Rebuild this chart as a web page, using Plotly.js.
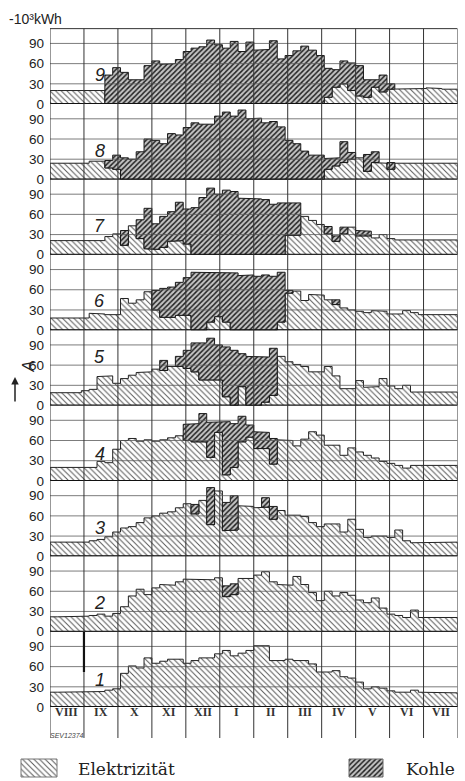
<!DOCTYPE html>
<html><head><meta charset="utf-8">
<script src="https://cdn.plot.ly/plotly-3.0.1.min.js"></script>
<style>html,body{margin:0;padding:0;background:#fff}#chart{width:465px;height:781px}</style>
</head><body><div id="chart"></div>
<script>
// ---- data (weekly values, 52 weeks from August to July, in 10^3 kWh) ----
const months = ['VIII','IX','X','XI','XII','I','II','III','IV','V','VI','VII'];
const yTicks = [0, 30, 60, 90];
const panelNames = ['1','2','3','4','5','6','7','8','9'];
const panelLabelY = [40, 43, 42, 40, 72, 43, 43, 42, 43];

// Elektrizität (upper edge of light hatched area)
const E1 = [22,22,22,22,22,23,23,25,27,50,61,58,73,65,68,71,71,65,69,73,73,79,84,76,80,84,91,91,69,69,71,69,69,64,52,52,54,45,43,37,27,30,28,24,22,22,25,22,21,21,21,21];
const E2 = [22,22,22,22,23,24,26,23,27,37,53,63,55,65,70,69,74,78,78,77,77,80,52,55,79,79,84,89,74,70,69,82,70,58,46,60,53,58,54,47,43,50,35,26,24,21,32,21,21,21,21,21];
const E3 = [21,21,21,21,21,23,25,29,36,42,44,50,57,60,64,66,72,78,63,83,47,97,38,39,75,74,72,73,55,68,61,61,59,50,44,48,48,36,55,40,28,30,30,28,39,23,20,21,21,21,21,21];
const E4 = [20,20,20,20,20,20,29,27,47,60,63,59,61,59,61,64,67,60,58,58,35,72,9,20,58,65,48,48,25,61,60,52,62,73,68,53,53,38,49,43,38,34,29,26,23,19,23,23,23,23,23,23];
const E5 = [19,19,19,19,22,24,43,44,33,40,45,49,50,54,52,58,58,55,50,38,38,38,13,0,28,0,0,5,15,73,65,61,58,50,50,58,44,25,25,37,27,28,40,29,25,30,20,20,20,20,20,20];
const E6 = [18,18,18,18,18,25,24,23,23,47,40,45,57,30,19,19,22,22,0,0,12,20,12,0,0,0,0,0,0,12,55,58,44,53,52,45,38,33,30,28,26,29,28,24,24,29,26,23,23,23,23,23];
const E7 = [21,21,21,21,21,21,21,27,31,14,43,24,9,8,11,20,21,16,0,0,0,0,0,0,0,0,0,0,0,0,29,29,57,51,45,31,20,31,41,28,28,25,30,24,22,22,22,22,22,22,22,22];
const E8 = [24,24,24,24,24,27,27,17,15,0,0,0,0,0,0,0,0,0,0,0,0,0,0,0,0,0,0,0,0,0,0,0,0,0,0,15,20,25,30,32,12,25,24,15,24,24,24,24,24,24,24,24];
const E9 = [20,20,20,20,20,20,20,0,0,0,0,0,0,0,0,0,0,0,0,0,0,0,0,0,0,0,0,0,0,0,0,0,0,0,0,10,25,30,20,12,10,25,18,22,22,22,22,23,24,23,22,22];

// Kohle (lower and upper edge of dark hatched area, null = no coal)
const n = null;
const CB1 = [];
const CT1 = [];
const CB2 = [n,n,n,n,n,n,n,n,n,n,n,n,n,n,n,n,n,n,n,n,n,n,52,55,n,n,n,n,n,n,n,n,n,n,n,n,n,n,n,n,n,n,n,n,n,n,n,n,n,n,n,n];
const CT2 = [n,n,n,n,n,n,n,n,n,n,n,n,n,n,n,n,n,n,n,n,n,n,68,71,n,n,n,n,n,n,n,n,n,n,n,n,n,n,n,n,n,n,n,n,n,n,n,n,n,n,n,n];
const CB3 = [n,n,n,n,n,n,n,n,n,n,n,n,n,n,n,n,n,n,63,n,47,n,38,39,n,n,n,73,55,n,n,n,n,n,n,n,n,n,n,n,n,n,n,n,n,n,n,n,n,n,n,n];
const CT3 = [n,n,n,n,n,n,n,n,n,n,n,n,n,n,n,n,n,n,77,n,102,n,80,90,n,n,n,87,74,n,n,n,n,n,n,n,n,n,n,n,n,n,n,n,n,n,n,n,n,n,n,n];
const CB4 = [n,n,n,n,n,n,n,n,n,n,n,n,n,n,n,n,n,60,58,58,35,72,9,20,58,65,48,48,25,n,n,n,n,n,n,n,n,n,n,n,n,n,n,n,n,n,n,n,n,n,n,n];
const CT4 = [n,n,n,n,n,n,n,n,n,n,n,n,n,n,n,n,n,84,85,100,87,88,88,85,96,83,73,72,63,n,n,n,n,n,n,n,n,n,n,n,n,n,n,n,n,n,n,n,n,n,n,n];
const CB5 = [n,n,n,n,n,n,n,n,n,n,n,n,n,n,52,n,58,55,50,38,38,38,13,0,28,0,0,5,15,n,n,n,n,n,n,n,n,n,n,n,n,n,n,n,n,n,n,n,n,n,n,n];
const CT5 = [n,n,n,n,n,n,n,n,n,n,n,n,n,n,67,n,73,82,93,93,100,90,87,82,77,73,72,72,85,n,n,n,n,n,n,n,n,n,n,n,n,n,n,n,n,n,n,n,n,n,n,n];
const CB6 = [n,n,n,n,n,n,n,n,n,n,n,n,n,30,19,19,22,22,0,0,12,20,12,0,0,0,0,0,0,12,55,n,n,n,n,n,38,n,n,n,n,n,n,n,n,n,n,n,n,n,n,n];
const CT6 = [n,n,n,n,n,n,n,n,n,n,n,n,n,59,62,64,71,78,86,86,85,85,85,85,81,82,80,82,80,86,59,n,n,n,n,n,45,n,n,n,n,n,n,n,n,n,n,n,n,n,n,n];
const CB7 = [n,n,n,n,n,n,n,n,n,14,n,24,9,8,11,20,21,16,0,0,0,0,0,0,0,0,0,0,0,0,29,29,n,n,n,31,20,31,n,28,28,n,n,n,n,n,n,n,n,n,n,n];
const CT7 = [n,n,n,n,n,n,n,n,n,36,n,52,69,46,57,64,78,68,70,85,99,90,96,94,84,84,83,82,75,77,78,77,n,n,n,42,28,41,n,36,35,n,n,n,n,n,n,n,n,n,n,n];
const CB8 = [n,n,n,n,n,n,n,17,15,0,0,0,0,0,0,0,0,0,0,0,0,0,0,0,0,0,0,0,0,0,0,0,0,0,0,15,20,25,30,n,12,25,n,15,n,n,n,n,n,n,n,n];
const CT8 = [n,n,n,n,n,n,n,28,36,32,30,41,60,58,53,68,66,77,84,82,82,94,100,94,103,90,91,84,86,78,58,53,42,36,36,31,32,56,40,n,37,41,n,25,n,n,n,n,n,n,n,n];
const CB9 = [n,n,n,n,n,n,n,0,0,0,0,0,0,0,0,0,0,0,0,0,0,0,0,0,0,0,0,0,0,0,0,0,0,0,0,10,25,30,20,12,10,25,18,22,n,n,n,n,n,n,n,n];
const CT9 = [n,n,n,n,n,n,n,43,54,47,36,36,57,64,59,60,66,78,83,85,95,88,83,93,78,92,80,81,94,67,72,79,86,80,72,53,51,64,61,57,36,36,43,30,n,n,n,n,n,n,n,n];

const ELEC = [E1,E2,E3,E4,E5,E6,E7,E8,E9];
const COALB = [CB1,CB2,CB3,CB4,CB5,CB6,CB7,CB8,CB9];
const COALT = [CT1,CT2,CT3,CT4,CT5,CT6,CT7,CT8,CT9];

// ---- geometry ----
const FW = 465, FH = 781;
const WEEKS = 52;
const X0 = 50, X1 = 457.5;
const PANEL_H = 75.375;
const ZERO1 = 707;
const YMAX = 112;
const pp = py => (FH - py) / FH;

const lightPat = {shape:'\\', size:4, solidity:0.24, fgcolor:'#555555', bgcolor:'#ffffff', fillmode:'replace'};
const darkPat  = {shape:'/',  size:3.6, solidity:0.42, fgcolor:'#222222', bgcolor:'#c4c4c4', fillmode:'replace'};

function elecPoly(E){
  const x=[0], y=[0];
  for(let i=0;i<E.length;i++){ x.push(i,i+1); y.push(E[i],E[i]); }
  x.push(E.length, 0); y.push(0, 0);
  return {x,y};
}
function coalPoly(CB, CT){
  const x=[], y=[];
  let i=0;
  while(i<WEEKS){
    if(CB[i]==null){ i++; continue; }
    const a=i; while(i<WEEKS && CB[i]!=null) i++; const b=i-1;
    const px=[], py=[];
    for(let j=a;j<=b;j++){ px.push(j,j+1); py.push(CT[j],CT[j]); }
    for(let j=b;j>=a;j--){ px.push(j+1,j); py.push(CB[j],CB[j]); }
    px.push(a); py.push(CT[a]);
    if(x.length){ x.push(null); y.push(null); }
    x.push(...px); y.push(...py);
  }
  return {x,y};
}

const traces = [];
const layout = {
  width: FW, height: FH,
  margin: {l:0, r:0, t:0, b:0},
  paper_bgcolor: '#fff', plot_bgcolor: 'rgba(0,0,0,0)',
  showlegend: false,
  xaxis: {domain:[X0/FW, X1/FW], range:[0, WEEKS], showgrid:false, zeroline:false, showticklabels:false, ticks:'', anchor:'y', fixedrange:true},
  xaxis2: {domain:[0,1], range:[0,FW], visible:false, anchor:'y10', fixedrange:true},
  yaxis10: {domain:[0, pp(748)], range:[FH, 748], visible:false, anchor:'x2', fixedrange:true},
  shapes: [], annotations: []
};

for(let k=0;k<9;k++){
  const z = ZERO1 - PANEL_H*k;
  const yid = k===0 ? 'y' : 'y'+(k+1);
  const ykey = k===0 ? 'yaxis' : 'yaxis'+(k+1);
  layout[ykey] = {
    domain:[pp(z), pp(z-PANEL_H)], range:[0, YMAX], anchor:'x',
    tickvals: yTicks, ticktext: yTicks.map(String), ticks:'', ticklabelstandoff: 5,
    showgrid:false, zeroline:false, showline:false, fixedrange:true,
    tickfont:{family:'Liberation Sans, Arial, sans-serif', size:13.5, color:'#222'}
  };
  const ep = elecPoly(ELEC[k]);
  traces.push({type:'scatter', mode:'lines', x:ep.x, y:ep.y, xaxis:'x', yaxis:yid,
    fill:'toself', fillpattern: lightPat, fillcolor:'#fff',
    line:{color:'#222', width:1}, hoverinfo:'skip'});
  const cp = coalPoly(COALB[k], COALT[k]);
  if(cp.x.length){
    traces.push({type:'scatter', mode:'lines', x:cp.x, y:cp.y, xaxis:'x', yaxis:yid,
      fill:'toself', fillpattern: darkPat, fillcolor:'#c4c4c4',
      line:{color:'#1a1a1a', width:1}, hoverinfo:'skip'});
  }
  [30,60,90].forEach(v => layout.shapes.push({type:'line', xref:'x', yref:yid, x0:0, x1:WEEKS, y0:v, y1:v, layer:'above', line:{color:'#5a5a5a', width:0.8}}));
  layout.shapes.push({type:'line', xref:'x', yref:yid, x0:0, x1:WEEKS, y0:0, y1:0, layer:'above', line:{color:'#111', width:1.8}});
  layout.annotations.push({xref:'x', yref:yid, x:6.37, y:panelLabelY[k], text:panelNames[k], showarrow:false,
    font:{family:'Liberation Sans, Arial, sans-serif', size:18, color:'#222', style:'italic'}});
}
layout.shapes.push({type:'line', xref:'x', yref:'paper', x0:0, x1:WEEKS, y0:pp(ZERO1-PANEL_H*9), y1:pp(ZERO1-PANEL_H*9), layer:'above', line:{color:'#333', width:1}});
for(let m=0;m<=12;m++){
  const xv = WEEKS*m/12;
  layout.shapes.push({type:'line', xref:'x', yref:'paper', x0:xv, x1:xv, y0:pp(738), y1:pp(ZERO1-PANEL_H*9), layer:'above', line:{color:'#333', width:1}});
}
layout.shapes.push({type:'line', xref:'x', yref:'paper', x0:WEEKS/12, x1:WEEKS/12, y0:pp(672), y1:pp(632), layer:'above', line:{color:'#111', width:2.2}});
months.forEach((m,i) => layout.annotations.push({xref:'x', yref:'paper', x:WEEKS*(i+0.5)/12, y:pp(721), text:'<b>'+m+'</b>', showarrow:false,
  font:{family:'Liberation Serif, serif', size:12, color:'#333'}}));
layout.annotations.push({xref:'paper', yref:'paper', x:7/FW, y:pp(19), xanchor:'left', yanchor:'middle', text:'-10³kWh', showarrow:false,
  font:{family:'Liberation Sans, Arial, sans-serif', size:14, color:'#222'}});
layout.annotations.push({xref:'paper', yref:'paper', x:17/FW, y:pp(367), text:'<i>A</i>', textangle:-90, showarrow:false,
  font:{family:'Liberation Sans, Arial, sans-serif', size:16, color:'#222'}});
layout.annotations.push({xref:'paper', yref:'paper', x:15/FW, y:pp(377), ax:0, ay:26, text:'', showarrow:true, arrowhead:2, arrowsize:1, arrowwidth:1.5, arrowcolor:'#222'});
layout.annotations.push({xref:'paper', yref:'paper', x:48/FW, y:pp(741), xanchor:'left', text:'SEV12374', showarrow:false,
  font:{family:'Liberation Sans, Arial, sans-serif', size:7, color:'#444', style:'italic'}});

const swL = {x:[21,57,57,21,21], y:[759,759,777,777,759]};
const swD = {x:[349,383,383,349,349], y:[759,759,777,777,759]};
traces.push({type:'scatter', mode:'lines', x:swL.x, y:swL.y, xaxis:'x2', yaxis:'y10', fill:'toself', fillpattern:lightPat, fillcolor:'#fff', line:{color:'#777', width:1}, hoverinfo:'skip'});
traces.push({type:'scatter', mode:'lines', x:swD.x, y:swD.y, xaxis:'x2', yaxis:'y10', fill:'toself', fillpattern:darkPat, fillcolor:'#c4c4c4', line:{color:'#666', width:1}, hoverinfo:'skip'});
layout.annotations.push({xref:'x2', yref:'y10', x:76, y:769, xanchor:'left', text:'Elektrizität', showarrow:false,
  font:{family:'DejaVu Serif, serif', size:17, color:'#222'}});
layout.annotations.push({xref:'x2', yref:'y10', x:404, y:769, xanchor:'left', text:'Kohle', showarrow:false,
  font:{family:'DejaVu Serif, serif', size:17, color:'#222'}});

Plotly.newPlot('chart', traces, layout, {staticPlot:true, displayModeBar:false});
</script>
</body></html>
